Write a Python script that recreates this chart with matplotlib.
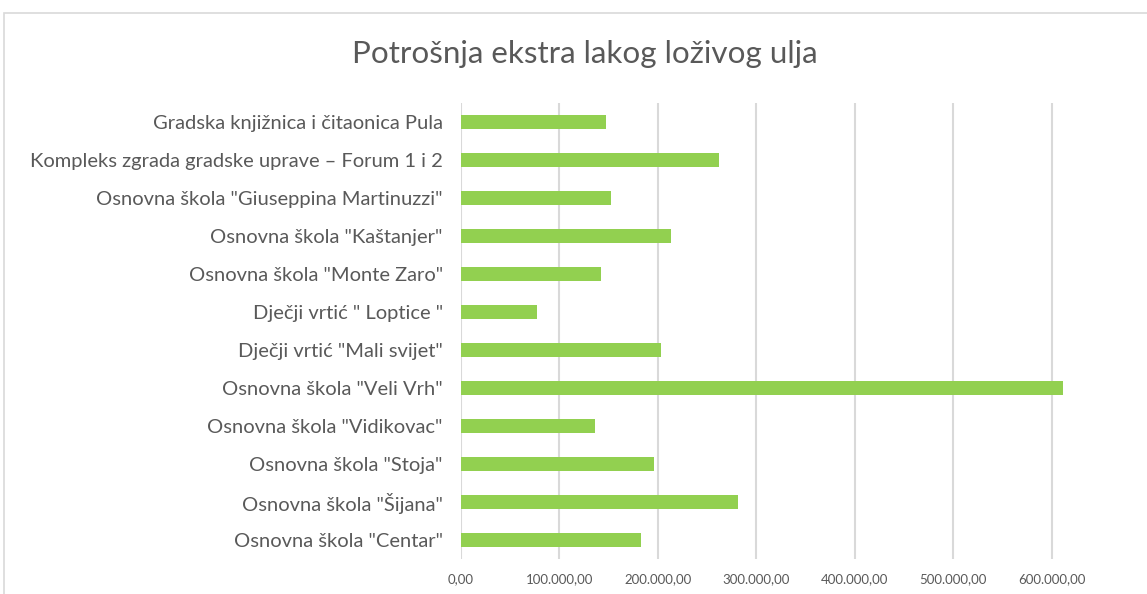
import matplotlib
matplotlib.use("Agg")
import matplotlib.pyplot as plt
from matplotlib.patches import Rectangle
from matplotlib.ticker import FuncFormatter

categories = [
    'Gradska knjižnica i čitaonica Pula',
    'Kompleks zgrada gradske uprave – Forum 1 i 2',
    'Osnovna škola "Giuseppina Martinuzzi"',
    'Osnovna škola "Kaštanjer"',
    'Osnovna škola "Monte Zaro"',
    'Dječji vrtić " Loptice "',
    'Dječji vrtić "Mali svijet"',
    'Osnovna škola "Veli Vrh"',
    'Osnovna škola "Vidikovac"',
    'Osnovna škola "Stoja"',
    'Osnovna škola "Šijana"',
    'Osnovna škola "Centar"',
]
values = [147500, 262000, 153000, 214000, 142700, 77000,
          203000, 611000, 136700, 196000, 282000, 183000]
xticks = [0, 100000, 200000, 300000, 400000, 500000, 600000]

plt.rcParams['font.family'] = ['Lato', 'DejaVu Sans']

W, H = 1147, 594
fig = plt.figure(figsize=(W / 100, H / 100), dpi=100)

# chart frame
fig.patches.append(Rectangle((4 / W, -0.1), 1.2, (H - 13) / H + 0.1,
                             transform=fig.transFigure, fill=False,
                             edgecolor='#d9d9d9', linewidth=1.2))

left, right = 460.7, 1147
top, bottom = 103, 559
ax = fig.add_axes([left / W, 1 - bottom / H, (right - left) / W, (bottom - top) / H])

n = len(categories)
ypos = list(range(n))
ax.barh(ypos, values, height=0.37, color='#92d050', zorder=3)
ax.set_ylim(n - 0.5, -0.5)
ax.set_xlim(0, (right - left) / 0.985 * 1000)
ax.set_xticks(xticks)
ax.xaxis.set_major_formatter(FuncFormatter(
    lambda v, p: f"{v:,.2f}".replace(',', 'X').replace('.', ',').replace('X', '.')))
ax.set_yticks(ypos)
ax.set_yticklabels(categories, fontsize=14.5, color='#595959')
ax.tick_params(axis='x', labelsize=9.5, colors='#595959', length=0, pad=10)
ax.tick_params(axis='y', length=0, pad=13)
ax.grid(axis='x', color='#d9d9d9', linewidth=1.5, zorder=0)
for s in ax.spines.values():
    s.set_visible(False)

fig.text(585 / W, 1 - 54 / H, 'Potrošnja ekstra lakog loživog ulja',
         ha='center', va='center', fontsize=22.6, color='#595959')

fig.savefig('out.png', dpi=100)
